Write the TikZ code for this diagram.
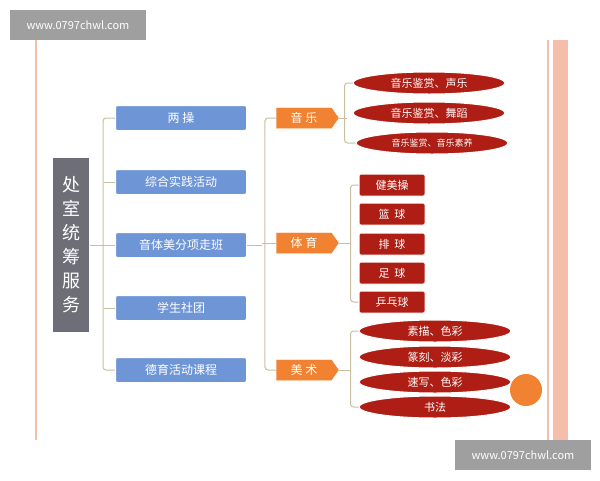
\documentclass[tikz,border=0pt]{standalone}
\usepackage{fontspec}
\setmainfont{Noto Sans CJK SC}
\usetikzlibrary{shapes.geometric,shapes.symbols}
\definecolor{boxblue}{RGB}{110,150,215}
\definecolor{arrorange}{RGB}{240,130,50}
\definecolor{itemred}{RGB}{175,30,20}
\definecolor{titlegray}{RGB}{110,110,120}
\definecolor{linetan}{RGB}{200,190,160}
\definecolor{framepink}{RGB}{245,190,170}
\tikzset{
  blue box/.style={draw=white, line width=1pt, fill=boxblue, text=white, rounded corners=2pt, minimum width=131pt, minimum height=25pt, font=\fontsize{12}{12}\selectfont},
  sub arrow/.style={signal, signal to=east, signal pointer angle=110, fill=arrorange, draw=white, text=white, minimum width=63pt, minimum height=21pt, font=\fontsize{12}{12}\selectfont, inner sep=1pt},
  red oval/.style={ellipse, fill=itemred, draw=white, line width=1pt, text=white, minimum width=152pt, minimum height=22pt, inner sep=0pt, font=\fontsize{11}{11}\selectfont},
  red box/.style={fill=itemred, draw=white, line width=1pt, text=white, rounded corners=1.5pt, minimum width=66pt, minimum height=22pt, font=\fontsize{11}{11}\selectfont},
  mark box/.style={fill=gray!75, text=white, minimum width=136pt, minimum height=30pt, font=\fontsize{11}{11}\selectfont},
  bracket/.style={linetan, line width=1pt, rounded corners=3pt}
}
\begin{document}
\begin{tikzpicture}[x=1pt,y=-1pt]
\useasboundingbox (0,0) rectangle (600,480);
% frame
\fill[framepink] (553,40) rectangle (568,440);
\draw[framepink, line width=1.2pt] (36,40) -- (36,440);
\draw[framepink, line width=1.2pt] (548,40) -- (548,440);
% watermarks
\node[mark box] (mark1) at (78,25) {www.0797chwl.com};
\node[mark box] (mark2) at (523,455) {www.0797chwl.com};
% title
\node[fill=titlegray, draw=white, line width=1pt, text=white, minimum width=37pt, minimum height=175pt, text width=18pt, align=center, font=\fontsize{18}{24}\selectfont] (title) at (71,245) {处\\室\\统\\筹\\服\\务};
% first level
\node[blue box] (b1) at (181,118) {两\ 操};
\node[blue box] (b2) at (181,182) {综合实践活动};
\node[blue box] (b3) at (181,245) {音体美分项走班};
\node[blue box] (b4) at (181,308) {学生社团};
\node[blue box] (b5) at (181,370) {德育活动课程};
% second level
\node[sub arrow] (music) at (304,118) {音\ 乐};
\node[sub arrow] (sport) at (304,243) {体\ 育};
\node[sub arrow] (art) at (304,370) {美\ 术};
% music items
\node[red oval] (m1) at (429,83) {音乐鉴赏、声乐};
\node[red oval] (m2) at (429,113) {音乐鉴赏、舞蹈};
\node[red oval, font=\fontsize{9}{9}\selectfont] (m3) at (432,143) {音乐鉴赏、音乐素养};
% sport items
\node[red box] (s1) at (392,185) {健美操};
\node[red box] (s2) at (392,214) {篮\ \ 球};
\node[red box] (s3) at (392,244) {排\ \ 球};
\node[red box] (s4) at (392,273) {足\ \ 球};
\node[red box] (s5) at (392,302) {乒乓球};
% art items
\node[red oval] (a1) at (435,331) {素描、色彩};
\node[red oval] (a2) at (435,357) {篆刻、淡彩};
\node[red oval] (a3) at (435,382) {速写、色彩};
\node[red oval] (a4) at (435,407) {书法};
\fill[arrorange] (526,390) circle (16pt);
% brackets
\draw[bracket] (b1.west) -- ++(-12,0) |- (b5.west);
\foreach \n in {b2,b3,b4} \draw[bracket] (104,0 |- \n.west) -- (\n.west);
\draw[bracket] (title.east) -- (104,0 |- title.east);
\draw[bracket] (music.west) -- ++(-11,0) |- (art.west);
\draw[bracket] (b3.east) -- (262,0 |- b3.east);
\draw[bracket] (sport.west) -- (262,0 |- sport.west);
\draw[bracket] (m1.west) -- ++(-8,0) |- (m3.west);
\draw[bracket] (music.east) -- (347,0 |- music.east);
\draw[bracket] (s1.west) -- ++(-8,0) |- (s5.west);
\draw[bracket] (sport.east) -- (351,0 |- sport.east);
\draw[bracket] (a1.west) -- ++(-8,0) |- (a4.west);
\draw[bracket] (art.east) -- (350,0 |- art.east);
\end{tikzpicture}
\end{document}
